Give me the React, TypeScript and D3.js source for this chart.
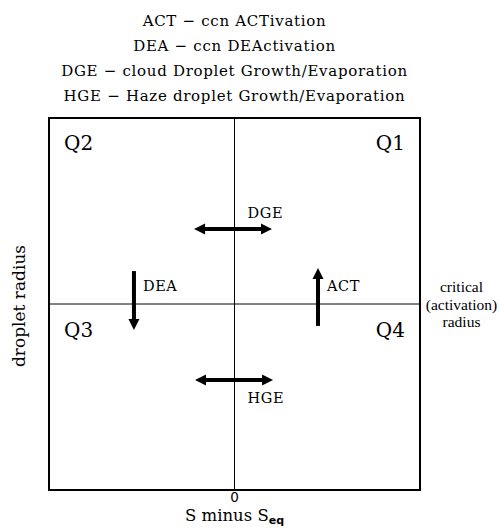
import * as d3 from "d3";

const WIDTH = 499;
const HEIGHT = 528;
const MARGIN = { top: 118, right: 79, bottom: 38, left: 49 };

// legend lines above the box
const legendLines = [
  "ACT \u2212 ccn ACTivation",
  "DEA \u2212 ccn DEActivation",
  "DGE \u2212 cloud Droplet Growth/Evaporation",
  "HGE \u2212 Haze droplet Growth/Evaporation",
];

// quadrant labels (domain coords, -1..1)
const quadNames = ["Q1", "Q2", "Q3", "Q4"];
const quadX = [0.84, -0.84, -0.84, 0.84];
const quadY = [0.83, 0.83, -0.18, -0.18];

// process arrows
type Arrow = { name: string; x1: number; y1: number; x2: number; y2: number; both: boolean };
const arrowNames = ["DGE", "DEA", "ACT", "HGE"];
const arrowX1 = [-0.218, -0.542, 0.45, -0.213];
const arrowX2 = [0.202, -0.542, 0.45, 0.208];
const arrowY1 = [0.403, 0.177, -0.118, -0.409];
const arrowY2 = [0.403, -0.14, 0.194, -0.409];
const arrowBoth = [true, false, false, true];
const arrows: Arrow[] = arrowNames.map((name, i) => ({
  name,
  x1: arrowX1[i],
  x2: arrowX2[i],
  y1: arrowY1[i],
  y2: arrowY2[i],
  both: arrowBoth[i],
}));

const rightLabel = ["critical", "(activation)", "radius"];

const SERIF = "'DejaVu Serif', serif";

export default function App() {
  const innerW = WIDTH - MARGIN.left - MARGIN.right;
  const innerH = HEIGHT - MARGIN.top - MARGIN.bottom;
  const x = d3.scaleLinear().domain([-1, 1]).range([MARGIN.left, MARGIN.left + innerW]);
  const y = d3.scaleLinear().domain([-1, 1]).range([MARGIN.top + innerH, MARGIN.top]);

  // arrow head pointing in direction (dx,dy) with tip at (tx,ty)
  const head = (tx: number, ty: number, dx: number, dy: number) => {
    const len = Math.hypot(dx, dy);
    const ux = dx / len;
    const uy = dy / len;
    const L = 11;
    const W = 5.5;
    const bx = tx - ux * L;
    const by = ty - uy * L;
    return `M${tx},${ty}L${bx - uy * W},${by + ux * W}L${bx + uy * W},${by - ux * W}Z`;
  };

  return (
    <svg
      width={WIDTH}
      height={HEIGHT}
      style={{ position: "absolute", left: 0, top: 0, background: "#fff" }}
    >
      {legendLines.map((t, i) => (
        <text
          key={t}
          x={x(0)}
          y={26 + i * 25}
          textAnchor="middle"
          fontFamily={SERIF}
          fontSize={15}
          letterSpacing={0.7}
        >
          {t}
        </text>
      ))}

      <rect
        x={x(-1)}
        y={y(1)}
        width={innerW}
        height={innerH}
        fill="none"
        stroke="#000"
        strokeWidth={2}
      />
      <line x1={x(0)} x2={x(0)} y1={y(1)} y2={y(-1)} stroke="#000" strokeWidth={1} />
      <line x1={x(-1)} x2={x(1)} y1={y(0)} y2={y(0)} stroke="#000" strokeWidth={1} />

      {quadNames.map((q, i) => (
        <text
          key={q}
          x={x(quadX[i])}
          y={y(quadY[i])}
          textAnchor="middle"
          fontFamily={SERIF}
          fontSize={20}
        >
          {q}
        </text>
      ))}

      {arrows.map((a) => {
        const x1 = x(a.x1);
        const x2 = x(a.x2);
        const y1 = y(a.y1);
        const y2 = y(a.y2);
        const dx = x2 - x1;
        const dy = y2 - y1;
        const len = Math.hypot(dx, dy);
        const ux = dx / len;
        const uy = dy / len;
        const sx = a.both ? x1 + ux * 8 : x1;
        const sy = a.both ? y1 + uy * 8 : y1;
        const horiz = a.y1 === a.y2;
        return (
          <g key={a.name}>
            <line
              x1={sx}
              y1={sy}
              x2={x2 - ux * 8}
              y2={y2 - uy * 8}
              stroke="#000"
              strokeWidth={4}
            />
            <path d={head(x2, y2, dx, dy)} fill="#000" />
            {a.both && <path d={head(x1, y1, -dx, -dy)} fill="#000" />}
            <text
              x={horiz ? x(0) + 13 : x1 + 9}
              y={horiz ? (a.y1 > 0 ? y1 - 11 : y1 + 23) : (a.name === "ACT" ? y2 + 23 : y1 + 20)}
              fontFamily={SERIF}
              fontSize={14.5}
              letterSpacing={0.6}
            >
              {a.name}
            </text>
          </g>
        );
      })}

      {rightLabel.map((t, i) => (
        <text
          key={t}
          x={461.5}
          y={292 + i * 17.5}
          textAnchor="middle"
          fontFamily="'Liberation Serif', serif"
          fontSize={15.5}
        >
          {t}
        </text>
      ))}

      <text
        transform={`translate(${25},${y(0) + 2}) rotate(-90)`}
        textAnchor="middle"
        fontFamily={SERIF}
        fontSize={17}
      >
        droplet radius
      </text>

      <text
        x={x(0)}
        y={502}
        textAnchor="middle"
        fontFamily="'DejaVu Sans', sans-serif"
        fontSize={13.5}
      >
        0
      </text>
      <text x={x(0)} y={521} textAnchor="middle" fontFamily={SERIF} fontSize={16.5}>
        S minus S
        <tspan fontFamily="'DejaVu Sans', sans-serif" fontWeight="bold" fontSize={11} dy={3}>
          eq
        </tspan>
      </text>
    </svg>
  );
}
